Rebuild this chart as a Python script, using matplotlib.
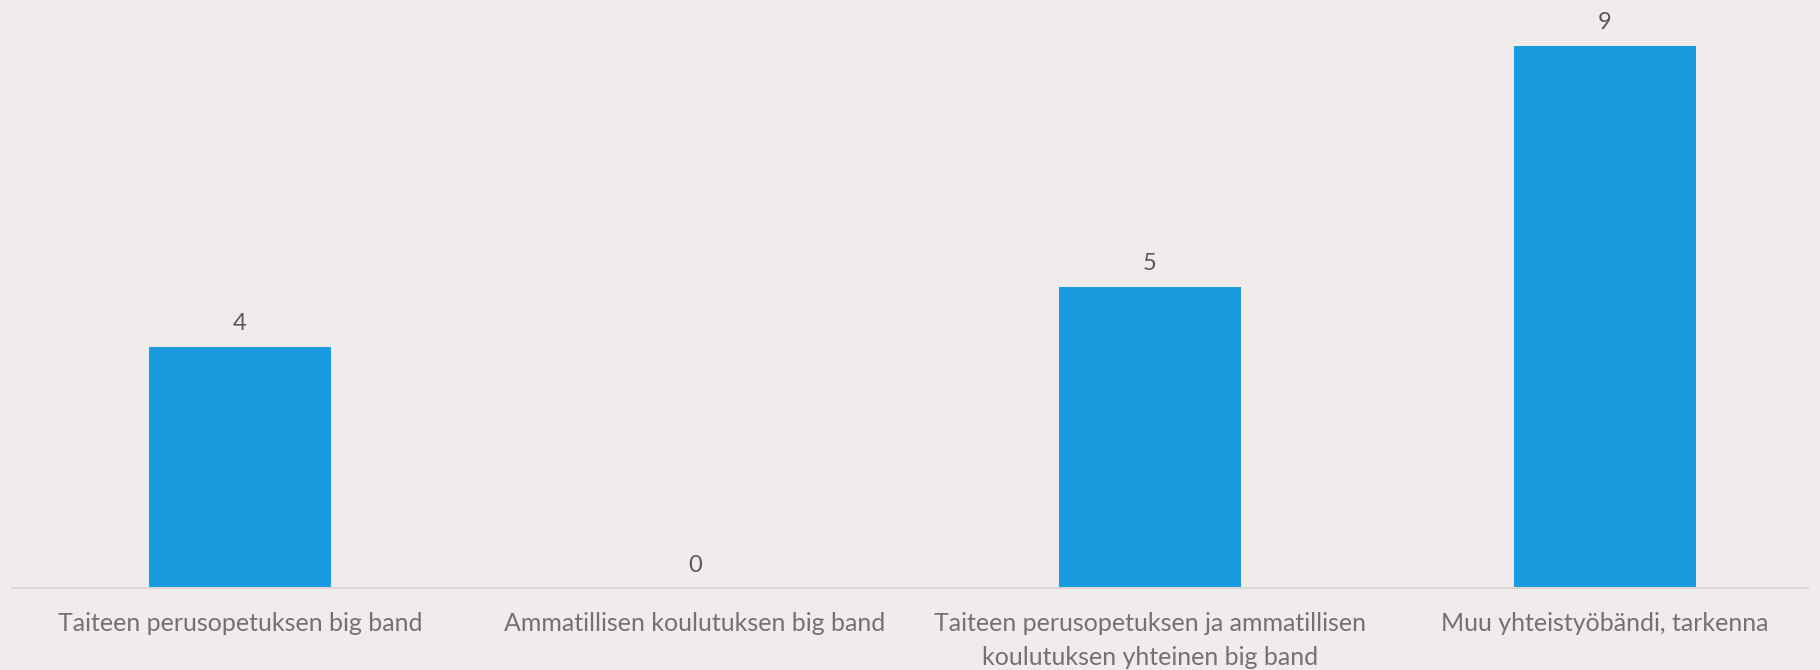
import matplotlib
matplotlib.use("Agg")
import matplotlib.pyplot as plt

categories = [
    "Taiteen perusopetuksen big band",
    "Ammatillisen koulutuksen big band",
    "Taiteen perusopetuksen ja ammatillisen\nkoulutuksen yhteinen big band",
    "Muu yhteistyöbändi, tarkenna",
]
values = [4, 0, 5, 9]

BG = "#F0ECEB"
BAR = "#1A9BDF"

plt.rcParams["font.family"] = ["Lato", "DejaVu Sans"]

W, H = 1820, 670
fig = plt.figure(figsize=(W / 100, H / 100), dpi=100, facecolor=BG)
ax = fig.add_axes([12 / W, (H - 588) / H, (1808 - 12) / W, 588 / H])
ax.set_facecolor(BG)

x = list(range(len(categories)))
bars = ax.bar(x, values, width=0.4, color=BAR, zorder=2)

ax.set_xlim(-0.501, 3.446)
ax.set_ylim(0, 588 / 60.25)

for xi, v in zip(x, values):
    ax.annotate(str(v), (xi, v), xytext=(0, 9), textcoords="offset points",
                ha="center", va="bottom", fontsize=17, color="#595959")

ax.set_xticks(x)
ax.set_xticklabels(categories, fontsize=18, color="#767171", linespacing=1.58)
ax.tick_params(axis="x", length=0, pad=17.5)
ax.set_yticks([])
for s in ["top", "right", "left"]:
    ax.spines[s].set_visible(False)
ax.spines["bottom"].set_color("#DAD7D5")
ax.spines["bottom"].set_linewidth(1.5)

fig.savefig("out.png", dpi=100, facecolor=BG)
